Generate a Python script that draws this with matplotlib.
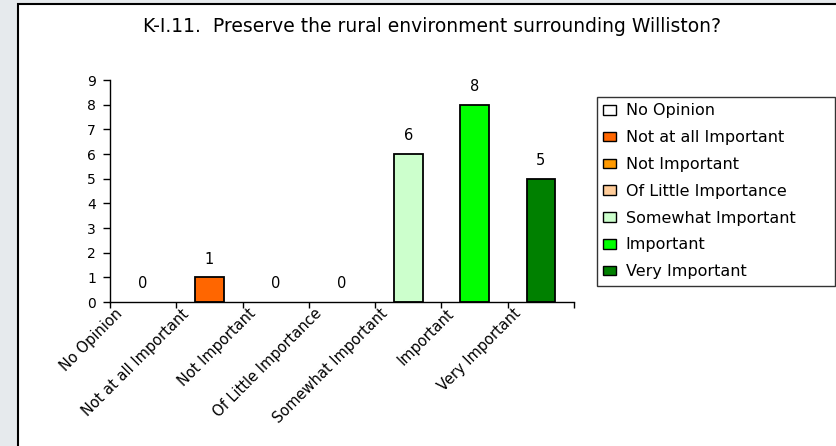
import numpy as np
import matplotlib
matplotlib.use('Agg')
from matplotlib import pyplot as plt
import matplotlib.transforms as mtransforms
from matplotlib.patches import Rectangle, Patch

plt.rcParams['font.family'] = ['DejaVu Sans']

categories = ["No Opinion", "Not at all Important", "Not Important",
              "Of Little Importance", "Somewhat Important", "Important",
              "Very Important"]
counts = [0, 1, 0, 0, 6, 8, 5]
colors = ["#FFFFFF", "#FF6600", "#FF9900", "#FFCC99", "#CCFFCC",
          "#00FF00", "#008000"]
title = "K-I.11.  Preserve the rural environment surrounding Williston?"

fig = plt.figure(figsize=(8.37, 4.46), dpi=100, facecolor="#E6EAED")

# white chart panel with black border on left and top
fig.patches.append(Rectangle((18/837, -0.05), 1.1, 1 - 4/446 + 0.05,
                             transform=fig.transFigure, facecolor="white",
                             edgecolor="black", lw=1.5, zorder=-5))

ax = fig.add_axes([110/837, 1 - 302/446, 464/837, 222/446])
ax.set_facecolor("none")

x = np.arange(len(categories))
edges = ["black" if c > 0 else "none" for c in counts]
ax.bar(x, counts, width=0.43, color=colors, edgecolor=edges, lw=1.3)

for xi, c in zip(x, counts):
    ax.annotate(str(c), (xi, c), xytext=(0, 13), textcoords="offset points",
                ha="center", va="center", fontsize=10.5)

ax.set_xlim(-0.5, len(categories) - 0.5)
ax.set_ylim(0, 9)
ax.set_yticks(range(10))
ax.tick_params(axis="y", direction="out", length=5, width=1, labelsize=10,
               pad=5)

ax.set_xticks(x)
ax.set_xticklabels(categories, rotation=45, ha="right",
                   rotation_mode="anchor", fontsize=10.5)
ax.tick_params(axis="x", which="major", length=0, pad=3)
ax.set_xticks(np.arange(-0.5, len(categories), 1), minor=True)
ax.tick_params(axis="x", which="minor", direction="out", length=4, width=1)

# shift x labels left like the original
offset = mtransforms.ScaledTranslation(-28/100, 0, fig.dpi_scale_trans)
for lab in ax.get_xticklabels():
    lab.set_transform(lab.get_transform() + offset)

ax.spines['top'].set_visible(False)
ax.spines['right'].set_visible(False)
ax.spines['left'].set_linewidth(1)
ax.spines['bottom'].set_linewidth(1)

fig.text(432/837, 1 - 27/446, title, ha="center", va="center", fontsize=13.5)

handles = [Patch(facecolor=c, edgecolor="black", lw=1) for c in colors]
leg = fig.legend(handles, categories, loc="upper left", mode="expand",
                 bbox_to_anchor=(597/837, 0, 238/837, 1 - 97/446),
                 fontsize=11.5, frameon=True, fancybox=False,
                 handlelength=0.8, handleheight=0.55, handletextpad=0.6,
                 labelspacing=0.74, borderpad=0.4, borderaxespad=0)
leg.get_frame().set_edgecolor("black")
leg.get_frame().set_linewidth(1)

plt.savefig("out.png", dpi=100, facecolor=fig.get_facecolor())
plt.close()
